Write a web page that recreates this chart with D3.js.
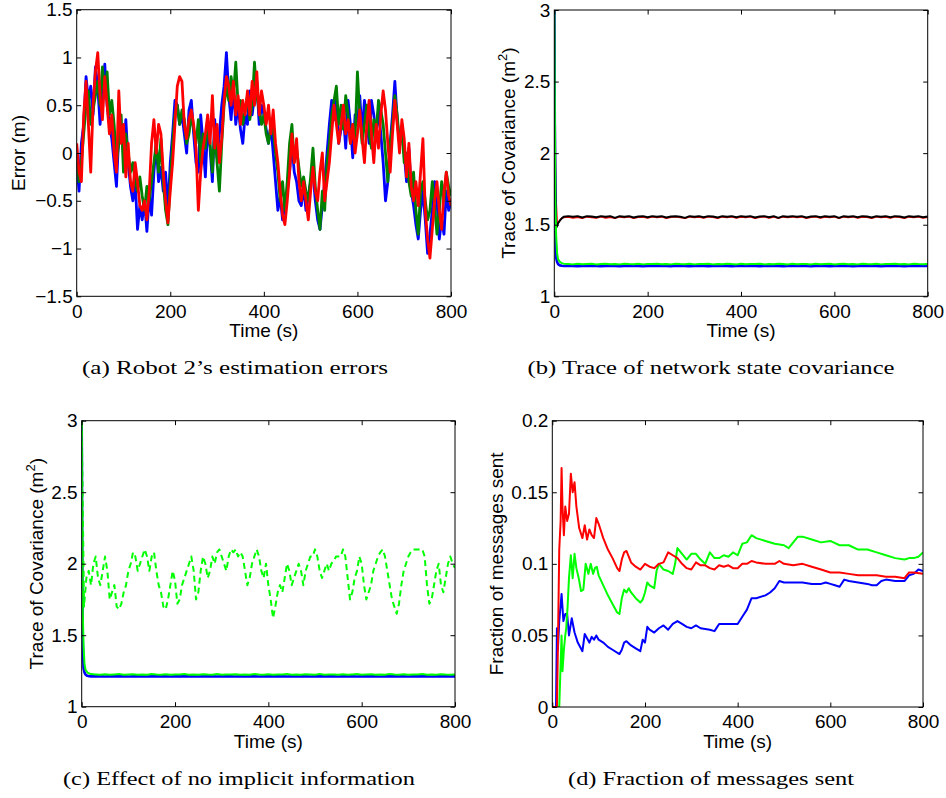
<!DOCTYPE html>
<html>
<head>
<meta charset="utf-8">
<script src="https://cdn.jsdelivr.net/npm/d3@7"></script>
<style>
  body { margin: 0; background: #fff; }
  svg { display: block; }
  .tick text { font-family: "Liberation Sans", Arial, sans-serif; font-size: 19px; fill: #000; }
  .tick line { stroke: #000; }
</style>
</head>
<body>
<div id="container"></div>
<script>
/* TICKS */
const timeTicks = [0, 200, 400, 600, 800];
const errTicks = [-1.5, -1, -0.5, 0, 0.5, 1, 1.5];
const covTicks = [1, 1.5, 2, 2.5, 3];
const fracTicks = [0, 0.05, 0.1, 0.15, 0.2];

/* (a) robot 2 estimation errors, one value every 5 s */
const errStep = 5;
const errBlue = [
  -0.1,-0.4,0.1,0.3,0.8,0.55,0.7,0.4,0.9,0.7,
  0.3,0.6,0.93,0.5,0.3,0.15,-0.1,-0.35,0.2,0.3,
  0.0,0.35,-0.1,-0.35,-0.5,-0.3,-0.8,-0.55,-0.7,-0.5,
  -0.82,-0.45,-0.65,-0.2,0.1,-0.3,-0.15,-0.4,-0.2,-0.6,
  -0.1,0.2,0.55,0.5,0.3,0.4,0.2,0.0,0.45,0.55,
  0.2,-0.1,-0.2,0.4,0.1,-0.25,0.3,0.05,-0.3,0.35,
  -0.05,0.2,0.5,0.7,1.05,0.6,0.35,0.7,0.3,0.5,
  0.25,0.1,0.4,0.3,0.65,0.4,0.6,0.75,0.3,0.5,
  0.4,0.25,0.1,0.3,0.0,-0.3,-0.6,-0.45,-0.7,-0.55,
  -0.4,-0.2,0.1,-0.2,-0.3,-0.5,-0.55,-0.35,-0.6,-0.45,
  -0.3,-0.2,-0.5,-0.7,-0.8,-0.55,-0.3,0.0,0.3,0.55,
  0.35,0.6,0.1,0.25,0.4,0.05,0.55,0.3,-0.05,0.4,
  0.3,0.6,0.2,0.55,0.35,0.1,0.55,0.4,0.2,0.45,
  0.2,-0.1,-0.5,-0.3,0.1,0.4,0.75,0.35,0.1,0.2,
  0.0,-0.3,0.05,-0.4,-0.55,-0.75,-0.9,-0.6,-0.4,-0.7,
  -1.05,-0.85,-0.6,-0.3,-0.5,-0.9,-0.7,-0.85,-0.4,-0.6,
  -0.5
];
const errGreen = [
  0.0,-0.3,-0.1,0.2,0.5,0.65,0.3,0.45,0.6,0.75,
  0.5,0.9,0.6,0.85,0.4,0.55,0.3,-0.1,0.1,0.4,
  -0.2,0.2,0.0,-0.2,-0.1,-0.3,-0.4,-0.25,-0.45,-0.6,
  -0.35,-0.5,-0.3,-0.1,0.1,-0.2,0.15,-0.3,-0.6,-0.75,
  -0.3,0.1,0.4,0.5,0.3,0.45,0.35,0.1,0.2,0.4,
  0.25,0.1,0.35,-0.1,0.2,0.05,0.3,0.1,-0.2,0.25,
  -0.1,-0.4,0.1,0.5,0.7,0.55,0.8,0.6,0.95,0.5,
  0.55,0.3,0.45,0.6,0.35,0.5,0.95,0.6,0.45,0.3,
  0.4,0.2,0.1,0.3,0.25,0.0,-0.2,-0.5,-0.3,-0.6,
  -0.3,0.1,0.3,-0.1,0.05,-0.15,-0.35,-0.25,-0.4,-0.5,
  -0.25,0.05,-0.35,-0.6,-0.8,-0.4,-0.6,-0.1,0.1,0.4,
  0.55,0.7,0.3,0.5,0.25,0.6,0.4,0.1,0.3,0.15,
  0.85,0.4,0.1,0.3,0.5,0.2,0.05,0.35,0.2,0.55,
  0.45,0.3,0.0,-0.3,0.1,0.3,0.6,0.4,0.1,0.25,
  -0.1,0.0,-0.3,-0.45,-0.2,-0.6,-0.85,-0.4,-0.3,-0.5,
  -0.7,-0.6,-0.3,-0.55,-0.85,-0.6,-0.3,-0.5,-0.2,-0.35,
  -0.45
];
const errRed = [
  0.1,-0.2,-0.3,0.4,0.75,0.3,-0.2,0.5,0.85,1.05,
  0.6,0.35,0.8,0.5,0.2,0.4,0.0,-0.2,0.65,0.1,
  0.3,-0.25,0.1,-0.3,-0.4,-0.1,-0.3,-0.55,-0.6,-0.5,
  -0.7,-0.4,0.1,0.35,0.0,0.3,0.2,-0.2,-0.5,-0.73,
  -0.4,-0.1,0.3,0.7,0.8,0.75,0.3,0.15,0.35,0.45,
  0.3,0.05,-0.6,-0.2,0.05,0.2,0.4,0.1,0.6,0.05,
  0.3,-0.1,0.15,0.55,0.8,0.7,0.5,0.75,0.4,0.6,
  0.3,0.55,0.4,0.65,0.4,0.75,0.5,0.85,0.4,0.65,
  0.5,0.3,0.5,0.2,0.45,0.1,-0.1,-0.4,-0.65,-0.75,
  -0.5,-0.2,0.2,-0.1,0.15,-0.3,-0.5,-0.3,-0.5,-0.7,
  -0.4,-0.15,-0.4,-0.5,-0.2,0.0,-0.5,-0.3,-0.1,0.2,
  0.5,0.3,0.1,0.3,0.5,0.2,0.35,0.1,0.3,0.0,
  0.2,0.45,0.15,-0.1,0.3,0.55,0.2,-0.1,0.3,0.05,
  0.4,0.65,0.45,0.1,-0.2,0.2,0.55,0.3,0.0,0.35,
  0.15,-0.25,0.1,-0.35,-0.5,-0.3,-0.55,-0.2,0.15,-0.6,
  -0.9,-1.1,-0.8,-0.5,-0.3,-0.6,-0.8,-0.4,-0.2,-0.45,
  -0.55
];

/* (b) trace of covariance: early samples, then every 10 s */
const covTimes = [0, 2, 4, 6, 8, 12, 16, 20].concat(d3.range(30, 801, 10));
const covBlack = [3.0,2.0,1.48,1.49,1.51,1.53,1.545,1.555,
  1.56,1.555,1.56,1.55,1.56,1.558,1.552,1.56,1.555,1.56,
  1.548,1.56,1.556,1.56,1.55,1.558,1.56,1.552,1.56,1.556,
  1.56,1.55,1.558,1.56,1.556,1.548,1.56,1.556,1.56,1.552,
  1.56,1.558,1.55,1.56,1.556,1.56,1.552,1.56,1.555,1.56,
  1.55,1.558,1.56,1.552,1.56,1.548,1.56,1.556,1.56,1.555,
  1.56,1.55,1.558,1.56,1.552,1.56,1.556,1.56,1.548,1.56,
  1.556,1.56,1.552,1.56,1.558,1.55,1.56,1.556,1.56,1.552,
  1.56,1.558,1.55,1.56,1.556,1.56,1.552,1.558];
const covRed = [3.0,1.7,1.66,1.52,1.51,1.53,1.545,1.55,
  1.555,1.548,1.552,1.545,1.555,1.55,1.548,1.556,1.548,1.553,
  1.545,1.555,1.55,1.556,1.546,1.552,1.555,1.548,1.556,1.55,
  1.555,1.546,1.552,1.556,1.55,1.545,1.556,1.55,1.555,1.548,
  1.556,1.552,1.546,1.555,1.55,1.556,1.548,1.555,1.55,1.556,
  1.546,1.552,1.556,1.548,1.555,1.545,1.555,1.55,1.556,1.55,
  1.555,1.546,1.552,1.556,1.548,1.555,1.55,1.556,1.545,1.555,
  1.55,1.556,1.548,1.555,1.552,1.546,1.556,1.55,1.555,1.548,
  1.556,1.552,1.546,1.555,1.55,1.556,1.548,1.552];
const covGreen = [3.0,1.7,1.42,1.3,1.26,1.24,1.232,1.228,
  1.226,1.223,1.227,1.224,1.226,1.228,1.223,1.225,1.227,1.224,
  1.226,1.223,1.228,1.225,1.224,1.227,1.223,1.226,1.225,1.228,
  1.224,1.226,1.223,1.227,1.225,1.224,1.228,1.223,1.226,1.225,
  1.227,1.223,1.226,1.224,1.228,1.225,1.223,1.227,1.224,1.226,
  1.225,1.228,1.223,1.226,1.224,1.227,1.225,1.223,1.228,1.224,
  1.226,1.225,1.223,1.227,1.224,1.226,1.228,1.223,1.225,1.227,
  1.224,1.226,1.223,1.228,1.225,1.224,1.227,1.223,1.226,1.225,
  1.228,1.224,1.226,1.223,1.227,1.225,1.224,1.226];
const covBlue = [3.0,1.5,1.27,1.24,1.225,1.216,1.213,1.212,
  1.213,1.212,1.211,1.212,1.213,1.212,1.212,1.211,1.212,1.213,
  1.212,1.211,1.212,1.212,1.213,1.212,1.211,1.212,1.212,1.213,
  1.212,1.212,1.211,1.213,1.212,1.212,1.211,1.212,1.213,1.212,
  1.211,1.212,1.213,1.212,1.212,1.211,1.212,1.212,1.213,1.212,
  1.212,1.211,1.212,1.213,1.212,1.212,1.211,1.212,1.212,1.213,
  1.212,1.212,1.211,1.212,1.213,1.212,1.211,1.212,1.212,1.213,
  1.212,1.211,1.212,1.212,1.213,1.212,1.212,1.211,1.212,1.213,
  1.212,1.212,1.211,1.212,1.213,1.212,1.212,1.212];

/* (c) no implicit information, dashed, every 5 s */
const noImplStep = 5;
const noImplGreen = [
  3.0,1.7,1.9,1.95,1.85,2.0,2.05,1.9,1.85,1.95,
  2.05,1.95,1.75,1.8,1.85,1.7,1.68,1.72,1.8,1.85,
  1.95,2.0,2.08,2.05,1.95,2.0,2.05,2.1,2.05,1.95,
  2.05,2.08,1.95,1.85,1.8,1.7,1.68,1.75,1.85,1.95,
  1.88,1.72,1.75,1.85,1.9,1.95,2.0,2.05,1.95,1.75,
  1.8,1.95,2.05,2.0,1.9,1.95,2.05,2.0,2.08,2.1,
  2.05,2.0,1.95,2.05,2.1,2.08,2.1,2.05,2.08,2.05,
  1.95,1.85,1.9,2.0,2.05,2.1,2.05,1.95,1.9,2.0,
  1.85,1.75,1.62,1.7,1.8,1.85,1.8,1.9,2.0,1.95,
  1.85,1.9,1.95,2.0,1.95,1.85,1.95,2.0,2.05,2.05,
  2.1,2.05,1.95,1.9,1.95,2.0,1.95,2.0,2.02,2.05,
  2.05,2.05,2.1,2.05,1.9,1.75,1.8,1.9,1.95,2.05,
  2.0,1.85,1.75,1.8,1.85,1.95,2.0,2.05,2.08,2.1,
  2.05,1.95,1.85,1.75,1.7,1.65,1.72,1.85,1.95,2.0,
  2.05,2.08,2.1,2.1,2.1,2.1,2.1,2.05,1.85,1.72,
  1.75,1.85,1.95,2.0,1.85,1.8,1.9,2.0,2.05,2.0,
  1.97
];

/* (d) fraction of messages sent */
const fracRedT = [0,10,12,15,18,20,22,25,28,32,36,40,44,48,52,58,65,70,75,80,85,90,95,100,110,120,130,140,145,150,155,160,165,170,180,190,200,210,220,230,240,250,260,270,280,290,300,310,320,330,340,350,360,370,380,390,400,410,420,430,440,460,480,490,500,520,540,560,580,600,620,640,660,680,700,720,740,760,770,780,800];
const fracRed = [0,0,0.04,0.11,0.13,0.167,0.14,0.12,0.14,0.13,0.135,0.163,0.15,0.157,0.14,0.125,0.118,0.127,0.117,0.124,0.12,0.118,0.132,0.128,0.118,0.11,0.104,0.097,0.095,0.103,0.108,0.109,0.105,0.101,0.098,0.096,0.1,0.098,0.097,0.1,0.101,0.108,0.106,0.104,0.1,0.097,0.096,0.101,0.099,0.099,0.097,0.096,0.099,0.098,0.099,0.097,0.097,0.1,0.1,0.102,0.101,0.1,0.1,0.102,0.1,0.099,0.1,0.098,0.096,0.094,0.094,0.093,0.092,0.092,0.092,0.091,0.091,0.09,0.094,0.094,0.093];
const fracGreenT = [0,15,18,20,22,25,28,30,33,36,40,44,48,52,57,62,67,72,78,83,88,92,96,100,110,120,130,140,145,150,155,160,165,170,180,190,195,200,205,210,220,225,230,240,250,260,265,270,280,290,300,310,320,330,340,350,360,370,380,390,400,410,420,430,440,460,480,500,510,520,530,540,560,580,600,620,640,660,680,700,720,740,760,770,780,790,800];
const fracGreen = [0,0,0.03,0.05,0.025,0.04,0.05,0.055,0.07,0.09,0.106,0.09,0.107,0.097,0.09,0.081,0.082,0.1,0.093,0.1,0.093,0.097,0.098,0.092,0.085,0.078,0.072,0.066,0.065,0.076,0.082,0.08,0.083,0.08,0.076,0.073,0.075,0.08,0.087,0.085,0.083,0.095,0.1,0.096,0.095,0.093,0.1,0.111,0.107,0.103,0.107,0.107,0.103,0.1,0.108,0.104,0.104,0.106,0.105,0.108,0.106,0.114,0.115,0.12,0.118,0.116,0.114,0.113,0.111,0.115,0.119,0.119,0.117,0.115,0.116,0.113,0.113,0.11,0.11,0.108,0.106,0.104,0.103,0.104,0.104,0.105,0.108];
const fracBlueT = [0,8,10,12,15,20,24,28,32,36,42,48,55,65,70,80,85,90,95,100,110,120,130,145,150,155,160,170,180,190,195,200,205,210,220,230,240,250,260,270,280,290,300,310,320,340,350,360,380,400,410,420,430,440,460,470,480,490,500,520,540,560,580,590,600,610,620,630,640,660,680,690,700,710,720,740,760,770,780,790,800];
const fracBlue = [0,0,0.055,0.04,0.06,0.079,0.06,0.065,0.065,0.05,0.062,0.052,0.045,0.039,0.051,0.045,0.049,0.047,0.05,0.047,0.045,0.042,0.04,0.037,0.04,0.045,0.046,0.043,0.041,0.039,0.047,0.045,0.056,0.054,0.052,0.055,0.057,0.054,0.058,0.06,0.058,0.056,0.055,0.057,0.055,0.054,0.053,0.058,0.058,0.058,0.063,0.068,0.076,0.076,0.078,0.08,0.083,0.088,0.087,0.087,0.087,0.086,0.086,0.087,0.086,0.085,0.084,0.089,0.088,0.087,0.086,0.085,0.085,0.088,0.089,0.088,0.088,0.092,0.093,0.096,0.095];

/* SVG */
const width = 946, height = 798;
const svg = d3.select("#container").append("svg")
  .attr("width", width).attr("height", height);

const sans = '"Liberation Sans", Arial, sans-serif';
const serif = '"Liberation Serif", "Times New Roman", serif';
const fmt = d3.format("~g");
const tickLen = 4.5;

function stepTimes(arr, step) { return arr.map((d, i) => i * step); }

function drawPanel(p) {
  const x = d3.scaleLinear().domain([0, 800]).range([p.left, p.right]);
  const y = d3.scaleLinear().domain(p.yDomain).range([p.bottom, p.top]);
  const g = svg.append("g");

  g.append("clipPath").attr("id", "clip-" + p.id)
    .append("rect")
    .attr("x", p.left).attr("y", p.top)
    .attr("width", p.right - p.left).attr("height", p.bottom - p.top);

  const line = d3.line().x(d => x(d[0])).y(d => y(d[1]));
  p.series.forEach(s => {
    g.append("path")
      .datum(s.t.map((t, i) => [t, s.v[i]]))
      .attr("clip-path", `url(#clip-${p.id})`)
      .attr("fill", "none")
      .attr("stroke", s.color)
      .attr("stroke-width", s.width)
      .attr("stroke-dasharray", s.dash || null)
      .attr("stroke-linejoin", "round")
      .attr("d", line);
  });

  // MATLAB style: inward ticks on all four sides
  g.append("g").attr("transform", `translate(0,${p.bottom})`)
    .call(d3.axisBottom(x).tickValues(timeTicks).tickFormat(fmt)
      .tickSizeInner(-tickLen).tickSizeOuter(0).tickPadding(8))
    .call(a => a.select(".domain").remove());
  g.append("g").attr("transform", `translate(0,${p.top})`)
    .call(d3.axisTop(x).tickValues(timeTicks).tickFormat("")
      .tickSizeInner(-tickLen).tickSizeOuter(0))
    .call(a => a.select(".domain").remove());
  g.append("g").attr("transform", `translate(${p.left},0)`)
    .call(d3.axisLeft(y).tickValues(p.yTicks).tickFormat(fmt)
      .tickSizeInner(-tickLen).tickSizeOuter(0).tickPadding(4))
    .call(a => a.select(".domain").remove());
  g.append("g").attr("transform", `translate(${p.right},0)`)
    .call(d3.axisRight(y).tickValues(p.yTicks).tickFormat("")
      .tickSizeInner(-tickLen).tickSizeOuter(0))
    .call(a => a.select(".domain").remove());

  g.append("rect")
    .attr("x", p.left).attr("y", p.top)
    .attr("width", p.right - p.left).attr("height", p.bottom - p.top)
    .attr("fill", "none").attr("stroke", "#000").attr("stroke-width", 1);

  // axis labels
  g.append("text")
    .attr("x", (p.left + p.right) / 2).attr("y", p.bottom + 41)
    .attr("text-anchor", "middle")
    .style("font-family", sans).style("font-size", "19px")
    .text("Time (s)");

  const yl = g.append("text")
    .attr("transform", `translate(${p.ylabelX},${(p.top + p.bottom) / 2}) rotate(-90)`)
    .attr("text-anchor", "middle")
    .style("font-family", sans).style("font-size", "19px");
  yl.append("tspan").text(p.ylabel);
  if (p.sup) {
    yl.append("tspan").attr("dy", -8).style("font-size", "13px").text("2");
    yl.append("tspan").attr("dy", 8).text(")");
  }

  g.append("text")
    .attr("x", p.capX).attr("y", p.capY)
    .attr("text-anchor", "middle")
    .attr("textLength", p.capW).attr("lengthAdjust", "spacingAndGlyphs")
    .style("font-family", serif).style("font-size", "19px")
    .text(p.caption);
}

drawPanel({
  id: "a", left: 76.7, right: 451, top: 9.7, bottom: 296.3,
  yDomain: [-1.5, 1.5], yTicks: errTicks,
  ylabel: "Error (m)", ylabelX: 25,
  caption: "(a) Robot 2\u2019s estimation errors", capX: 235, capY: 374, capW: 306,
  series: [
    { t: stepTimes(errBlue, errStep), v: errBlue, color: "#0000ff", width: 2.8 },
    { t: stepTimes(errGreen, errStep), v: errGreen, color: "#008000", width: 2.8 },
    { t: stepTimes(errRed, errStep), v: errRed, color: "#ff0000", width: 2.8 }
  ]
});

drawPanel({
  id: "b", left: 554.3, right: 927.7, top: 10, bottom: 296.3,
  yDomain: [1, 3], yTicks: covTicks,
  ylabel: "Trace of Covariance (m", sup: true, ylabelX: 514.5,
  caption: "(b) Trace of network state covariance", capX: 711, capY: 374, capW: 367,
  series: [
    { t: covTimes, v: covRed, color: "#ff0000", width: 1.6 },
    { t: covTimes, v: covBlack, color: "#000000", width: 2 },
    { t: covTimes, v: covBlue, color: "#0000ff", width: 2.6 },
    { t: covTimes, v: covGreen, color: "#00ff00", width: 2 }
  ]
});

drawPanel({
  id: "c", left: 81.7, right: 455, top: 420.7, bottom: 706.7,
  yDomain: [1, 3], yTicks: covTicks,
  ylabel: "Trace of Covariance (m", sup: true, ylabelX: 42.5,
  caption: "(c) Effect of no implicit information", capX: 239, capY: 785, capW: 352,
  series: [
    { t: covTimes, v: covBlue, color: "#0000ff", width: 2.6 },
    { t: covTimes, v: covGreen, color: "#00ff00", width: 2 },
    { t: stepTimes(noImplGreen, noImplStep), v: noImplGreen, color: "#00ff00", width: 2, dash: "6,4" }
  ]
});

drawPanel({
  id: "d", left: 552.3, right: 923, top: 420.7, bottom: 707,
  yDomain: [0, 0.2], yTicks: fracTicks,
  ylabel: "Fraction of messages sent", ylabelX: 502.5,
  caption: "(d) Fraction of messages sent", capX: 711, capY: 785, capW: 286,
  series: [
    { t: fracBlueT, v: fracBlue, color: "#0000ff", width: 2 },
    { t: fracGreenT, v: fracGreen, color: "#00ff00", width: 2 },
    { t: fracRedT, v: fracRed, color: "#ff0000", width: 2 }
  ]
});
</script>
</body>
</html>
